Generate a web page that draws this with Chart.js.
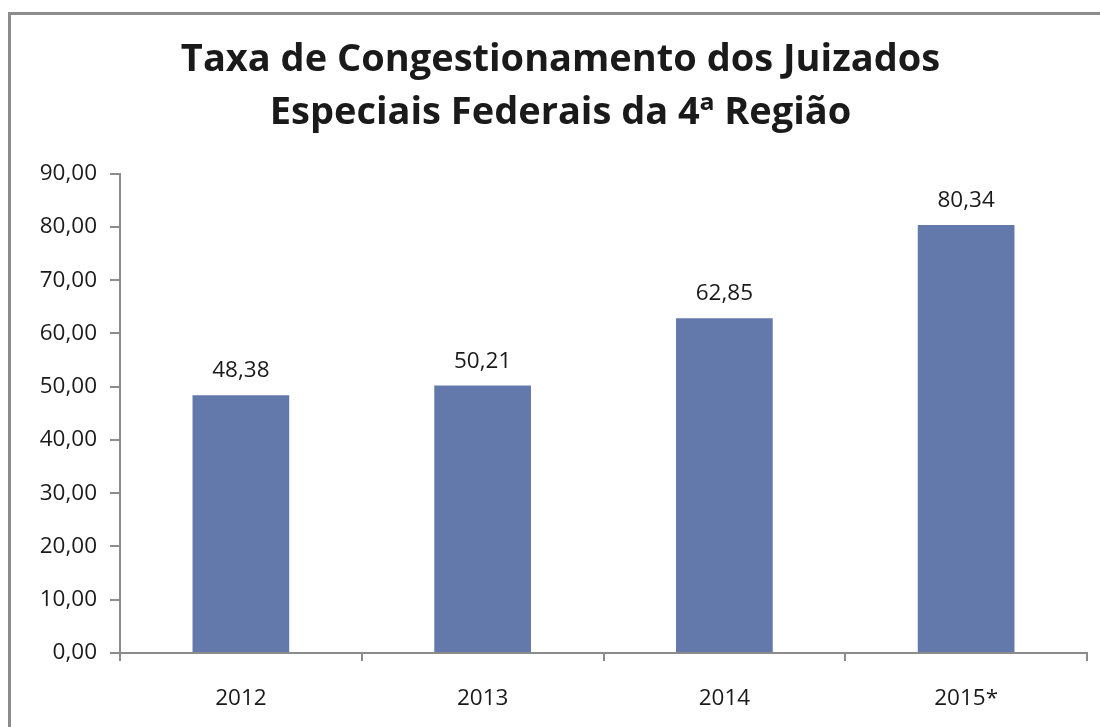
<!DOCTYPE html>
<html>
<head>
<meta charset="utf-8">
<script src="https://cdn.jsdelivr.net/npm/chart.js@4"></script>
<style>
  html, body { margin: 0; padding: 0; background: #fff; }
  #wrap { position: absolute; left: 0; top: 0; width: 1100px; height: 727px; overflow: hidden; }
  #frame { position: absolute; left: 8px; top: 12px; width: 1200px; height: 800px;
           border-left: 3px solid #8c8c8c; border-top: 3px solid #8c8c8c; }
  #box { position: absolute; left: 0; top: 0; width: 1100px; height: 727px; }
</style>
</head>
<body>
<div id="wrap">
  <div id="frame"></div>
  <div id="box"><canvas id="c"></canvas></div>
</div>
<script>
const titleLines = ['Taxa de Congestionamento dos Juizados', 'Especiais Federais da 4ª Região'];
const categories = ['2012', '2013', '2014', '2015*'];
const values = [48.38, 50.21, 62.85, 80.34];
const yMin = 0, yMax = 90, yStep = 10;

const fmt = v => Number(v).toFixed(2).replace('.', ',');
const FONT = "'Open Sans', sans-serif";
const AXIS = '#8c8c8c';

const barLabels = {
  id: 'barLabels',
  afterDatasetsDraw(chart) {
    const ctx = chart.ctx;
    const meta = chart.getDatasetMeta(0);
    ctx.save();
    ctx.font = '22.5px ' + FONT;
    ctx.fillStyle = '#1a1a1a';
    ctx.textAlign = 'center';
    ctx.textBaseline = 'alphabetic';
    meta.data.forEach((bar, i) => {
      ctx.fillText(fmt(values[i]), bar.x, bar.y - 18);
    });
    ctx.restore();
  }
};

new Chart(document.getElementById('c'), {
  type: 'bar',
  data: {
    labels: categories,
    datasets: [{
      data: values,
      backgroundColor: '#6379ab',
      borderWidth: 0,
      barPercentage: 0.4,
      categoryPercentage: 1.0
    }]
  },
  options: {
    responsive: true,
    maintainAspectRatio: false,
    animation: false,
    layout: { padding: { left: 34, right: 13, top: 0, bottom: 0 } },
    plugins: {
      legend: { display: false },
      tooltip: { enabled: false },
      title: {
        display: true,
        text: titleLines,
        color: '#1a1a1a',
        font: { family: FONT, size: 38, weight: 'bold', lineHeight: 1.39 },
        padding: { top: 34, bottom: 34 }
      }
    },
    scales: {
      x: {
        grid: { display: true, drawOnChartArea: false, drawTicks: true, tickLength: 8, color: AXIS, lineWidth: 2, offset: true },
        border: { display: true, color: AXIS, width: 2 },
        ticks: { color: '#1a1a1a', font: { family: FONT, size: 22.5 }, padding: 24 },
        afterFit(scale) { scale.height = 74; }
      },
      y: {
        min: yMin, max: yMax,
        grid: { display: true, drawOnChartArea: false, drawTicks: true, tickLength: 10, color: AXIS, lineWidth: 2 },
        border: { display: true, color: AXIS, width: 2 },
        ticks: { stepSize: yStep, color: '#1a1a1a', font: { family: FONT, size: 22.5 }, padding: 13,
                 callback: v => fmt(v) },
        afterFit(scale) { scale.width = 86; }
      }
    }
  },
  plugins: [barLabels]
});
</script>
</body>
</html>
